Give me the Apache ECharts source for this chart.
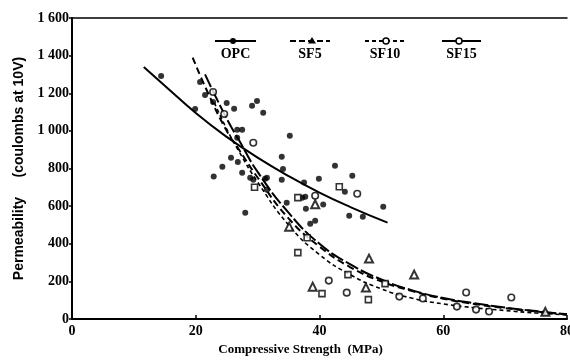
<!DOCTYPE html>
<html>
<head>
<meta charset="utf-8">
<script src="https://cdn.jsdelivr.net/npm/echarts@6/dist/echarts.min.js"></script>
<style>html,body{margin:0;padding:0;background:#fff}#c{width:570px;height:362px}</style>
</head>
<body>
<div id="c"></div>
<script>
// ---- data ----
const seriesNames = ['OPC', 'SF5', 'SF10', 'SF15'];
const xTicks = [0, 20, 40, 60, 80];
const yTicks = [0, 200, 400, 600, 800, 1000, 1200, 1400, 1600];

const opcPoints = [[14.4,1292],[19.9,1116],[20.7,1260],[21.5,1191],[22.8,1154],[25.0,1148],[26.2,1117],[29.1,1133],[29.9,1159],[30.9,1096],[26.7,1006],[27.5,1006],[26.7,963],[35.2,974],[25.7,857],[24.3,809],[22.9,757],[26.8,835],[27.5,777],[28.8,751],[31.5,751],[29.3,740],[31.2,745],[33.9,862],[34.1,798],[33.9,740],[28.0,565],[31.5,687],[34.7,618],[37.8,586],[37.5,725],[39.9,745],[42.5,814],[44.1,676],[40.6,608],[45.3,761],[37.2,645],[37.7,650],[38.5,506],[39.3,522],[44.8,549],[47.0,544],[50.3,597]];
const sf5Points = [[35.1,491],[39.3,610],[48.0,321],[55.3,236],[38.9,172],[47.5,167],[76.5,38]];
const sf10Points = [[36.5,353],[43.2,703],[36.5,645],[40.4,135],[44.6,236],[47.9,103],[50.6,188],[29.5,700],[38.0,432]];
const sf15Points = [[22.8,1207],[24.6,1090],[29.3,937],[39.3,655],[46.1,666],[41.5,204],[44.4,140],[52.9,119],[56.7,109],[63.7,141],[62.2,66],[65.3,50],[67.4,40],[71.0,114]];

const opcCurve = [[11.6,1340],[15,1240],[20,1095],[25,968],[30,858],[35,760],[40,672],[45,595],[51,512]];
const sf5Curve = [[19.5,1390],[22,1200],[25,1000],[27,900],[30,752],[35,535],[40,385],[45,275],[50,200],[55,148],[60,108],[65,80],[70,58],[75,40],[80,24]];
const sf15Curve = [[21.5,1300],[25,1065],[27,950],[30,782],[35,565],[40,400],[45,290],[50,210],[55,152],[60,112],[65,84],[70,61],[75,42],[80,25]];
const sf10Curve = [[23,1150],[25,1010],[27,890],[30,728],[35,500],[40,342],[45,235],[50,160],[55,110],[60,80],[65,60],[70,45],[75,32],[80,22]];

const chart = echarts.init(document.getElementById('c'), null, {renderer: 'canvas'});
const serif = '"Liberation Serif", "DejaVu Serif", serif';
const sans = '"Liberation Sans", Arial, sans-serif';

function fmtY(v) {
  if (v >= 1000) return Math.floor(v / 1000) + ' ' + String(v % 1000).padStart(3, '0');
  return String(v);
}

const lineStyleBase = {color: '#000'};
const legendY = 41, textY = 54;
function legendItem(x0, x1, mx, name, dash, marker) {
  const els = [];
  els.push({type: 'line', shape: {x1: x0, y1: legendY, x2: x1, y2: legendY},
    style: {stroke: '#000', lineWidth: 2, lineDash: dash}});
  if (marker === 'dot') els.push({type: 'circle', shape: {cx: mx, cy: legendY, r: 3}, style: {fill: '#000'}});
  if (marker === 'tri') els.push({type: 'polygon', shape: {points: [[mx, legendY - 4], [mx - 4, legendY + 2.5], [mx + 4, legendY + 2.5]]}, style: {fill: '#000'}});
  if (marker === 'ring') els.push({type: 'circle', shape: {cx: mx, cy: legendY, r: 3}, style: {fill: '#fff', stroke: '#000', lineWidth: 1.5}});
  els.push({type: 'text', x: (x0 + x1) / 2, y: textY, style: {text: name, fill: '#000', font: 'bold 14px ' + serif, align: 'center', verticalAlign: 'middle'}});
  return els;
}

const graphics = [].concat(
  legendItem(215, 256, 233, seriesNames[0], null, 'dot'),
  legendItem(290, 330, 312, seriesNames[1], [6, 3], 'tri'),
  legendItem(365, 405, 386, seriesNames[2], [4, 3], 'ring'),
  legendItem(442, 481, 459, seriesNames[3], null, 'ring')
);

const option = {
  animation: false,
  backgroundColor: '#fff',
  grid: {left: 72, right: 3, top: 18, bottom: 43, containLabel: false, outerBoundsMode: 'none'},
  xAxis: [{
    type: 'value', min: xTicks[0], max: xTicks[xTicks.length - 1], interval: 20,
    name: 'Compressive Strength  (MPa)', nameLocation: 'middle', nameGap: 23,
    nameTextStyle: {fontFamily: serif, fontSize: 13, fontWeight: 'bold', color: '#000', padding: [0, 38, 0, 0]},
    axisLine: {show: true, lineStyle: {color: '#000', width: 2}},
    axisTick: {show: true, inside: true, length: 4, lineStyle: {color: '#000', width: 1.5}},
    axisLabel: {fontFamily: serif, fontSize: 14, fontWeight: 'bold', color: '#000', margin: 5},
    splitLine: {show: false}
  }, {
    type: 'value', position: 'top', min: 0, max: 80,
    axisLine: {show: true, lineStyle: {color: '#000', width: 1.5}},
    axisTick: {show: false}, axisLabel: {show: false}, splitLine: {show: false}
  }],
  yAxis: {
    type: 'value', min: yTicks[0], max: yTicks[yTicks.length - 1], interval: 200,
    name: 'Permeability     (coulombs at 10V)', nameLocation: 'middle', nameGap: 45, nameRotate: 90,
    nameTextStyle: {fontFamily: sans, fontSize: 14, fontWeight: 'bold', color: '#000'},
    axisLine: {show: true, lineStyle: {color: '#000', width: 2}},
    axisTick: {show: true, inside: false, length: 3, lineStyle: {color: '#000', width: 1.5}},
    axisLabel: {fontFamily: serif, fontSize: 14, fontWeight: 'bold', color: '#000', margin: 3, formatter: fmtY},
    splitLine: {show: false}
  },
  graphic: graphics,
  series: [
    {name: 'OPC fit', type: 'line', data: opcCurve, smooth: true, showSymbol: false, lineStyle: {color: '#000', width: 2}, z: 2},
    {name: 'SF5 fit', type: 'line', data: sf5Curve, smooth: true, showSymbol: false, lineStyle: {color: '#000', width: 2, type: [7, 4]}, z: 2},
    {name: 'SF15 fit', type: 'line', data: sf15Curve, smooth: true, showSymbol: false, lineStyle: {color: '#000', width: 2, type: [14, 3]}, z: 2},
    {name: 'SF10 fit', type: 'line', data: sf10Curve, smooth: true, showSymbol: false, lineStyle: {color: '#000', width: 1.6, type: [4, 3]}, z: 2},
    {name: 'OPC', type: 'scatter', data: opcPoints, symbol: 'circle', symbolSize: 6, itemStyle: {color: '#000'}, z: 3},
    {name: 'SF5', type: 'scatter', data: sf5Points, symbol: 'triangle', symbolSize: 8, itemStyle: {color: '#fff', borderColor: '#000', borderWidth: 2}, z: 3},
    {name: 'SF10', type: 'scatter', data: sf10Points, symbol: 'rect', symbolSize: 6, itemStyle: {color: '#fff', borderColor: '#000', borderWidth: 1.6}, z: 3},
    {name: 'SF15', type: 'scatter', data: sf15Points, symbol: 'circle', symbolSize: 6.5, itemStyle: {color: '#fff', borderColor: '#000', borderWidth: 1.6}, z: 3}
  ]
};
chart.setOption(option);
</script>
</body>
</html>
